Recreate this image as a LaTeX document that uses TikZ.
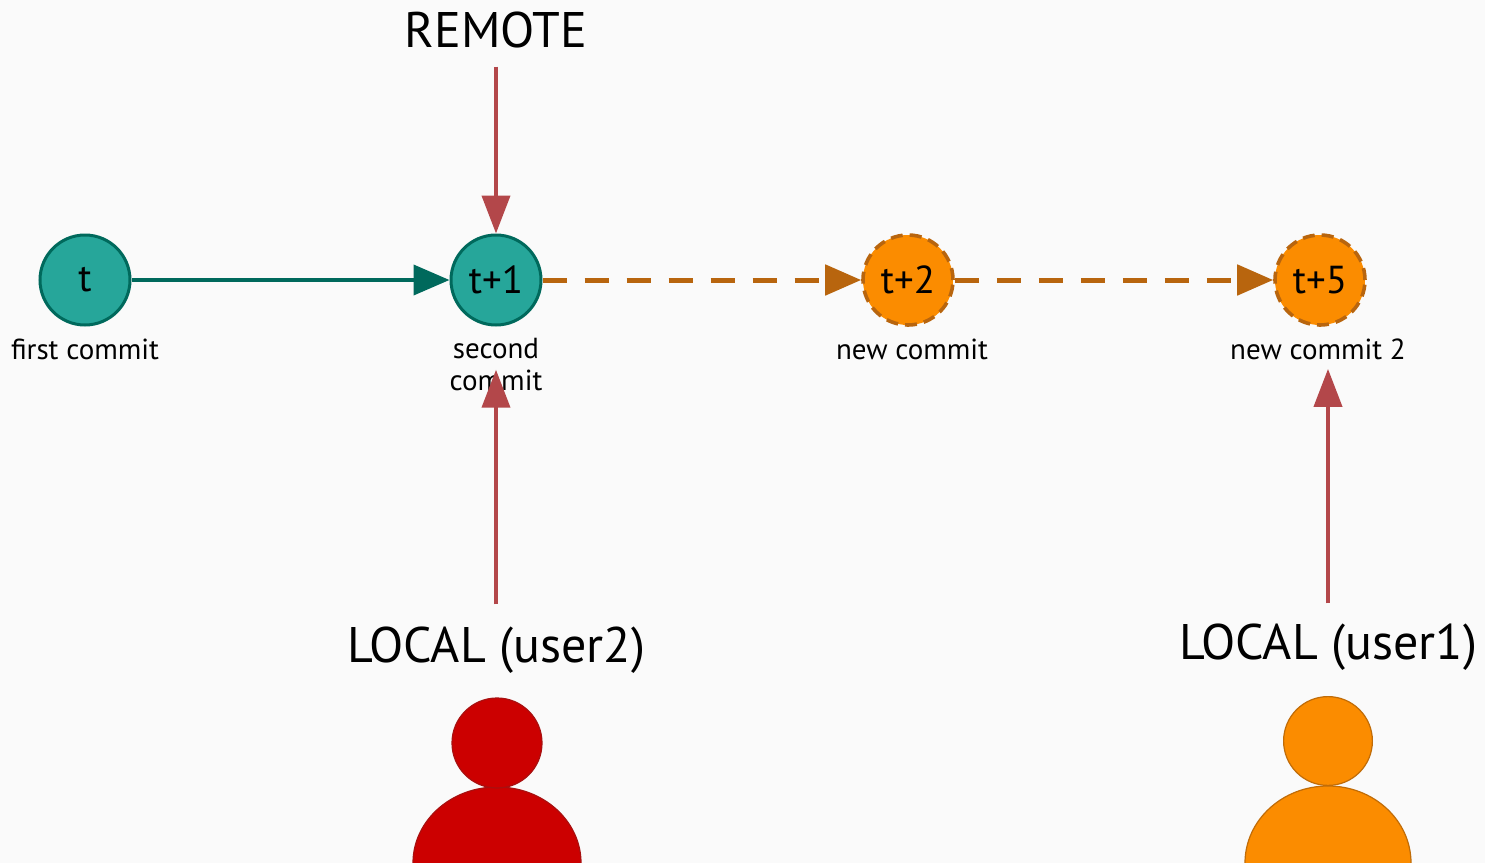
\documentclass[tikz,border=0pt]{standalone}
\usepackage{fontspec}
\setmainfont{PT Sans}
\usetikzlibrary{arrows.meta}
\usetikzlibrary{positioning}
\definecolor{tealfill}{HTML}{26A69A}
\definecolor{tealline}{HTML}{00695C}
\definecolor{orangefill}{HTML}{FB8C00}
\definecolor{orangeline}{HTML}{B8650E}
\definecolor{pointer}{HTML}{B3474A}
\definecolor{redfill}{HTML}{CC0000}
\definecolor{redline}{HTML}{A81010}
\definecolor{userline}{HTML}{C06C08}
\definecolor{paper}{HTML}{FAFAFA}

\begin{document}
\begin{tikzpicture}[x=0.5pt,y=-0.5pt,
    main node/.style={circle,draw=tealline,fill=tealfill,line width=1.5pt,minimum size=45pt,inner sep=0pt,font=\fontsize{19.5}{19.5}\selectfont},
    new node/.style={main node,draw=orangeline,fill=orangefill,line width=1.8pt,dash pattern=on 6pt off 3.5pt},
    small label/.style={inner sep=0pt,align=center,font=\fontsize{14.5}{16}\selectfont},
    big label/.style={inner sep=0pt,font=\fontsize{25}{25}\selectfont},
    commit arrow/.style={line width=2pt,-{Triangle[length=18pt,width=15pt]}},
    pointer arrow/.style={color=pointer,line width=2pt,-{Triangle[length=19pt,width=14pt]}}]

   \useasboundingbox[fill=paper] (0,0) rectangle (1485,863);

   % commits
   \node[main node] (t) at (85,280) {t};
   \node[main node] (t1) at (496,280) {t+1};
   \node[new node] (t2) at (908,280) {t+2};
   \node[new node] (t5) at (1320,280) {t+5};

   \node[small label] (l0) at (85,349) {first commit};
   \node[small label] (l1) at (496,365) {second\\commit};
   \node[small label] (l2) at (912,349) {new commit};
   \node[small label] (l5) at (1318,349) {new commit 2};

   \draw[commit arrow,color=tealline] (t) -- (t1);
   \draw[commit arrow,color=orangeline,line width=2.5pt,dash pattern=on 12pt off 9pt] (t1) -- (t2);
   \draw[commit arrow,color=orangeline,line width=2.5pt,dash pattern=on 12pt off 9pt] (t2) -- (t5);

   % pointers
   \node[big label] (remote) at (496,30) {REMOTE};
   \node[big label] (local2) at (496,650) {LOCAL (user2)};
   \node[big label] (local1) at (1328,647) {LOCAL (user1)};

   \draw[pointer arrow,shorten <=9pt] (remote) -- (t1);
   \draw[pointer arrow,shorten <=11pt,shorten >=-11pt] (local2) -- (l1);
   \draw[pointer arrow,shorten <=10pt,shorten >=4.5pt] (local1.north) -- (local1.north |- l5.south);

   % users
   \fill[redfill] (413,863) arc[start angle=180,end angle=0,x radius=42pt,y radius=38pt] -- cycle;
   \draw[redline,line width=0.6pt] (413,863) arc[start angle=180,end angle=0,x radius=42pt,y radius=38pt];
   \filldraw[fill=redfill,draw=redline,line width=0.6pt] (497,743) circle (22.5pt);

   \fill[orangefill] (1245,863) arc[start angle=180,end angle=0,x radius=41.5pt,y radius=38.5pt] -- cycle;
   \draw[userline,line width=0.6pt] (1245,863) arc[start angle=180,end angle=0,x radius=41.5pt,y radius=38.5pt];
   \filldraw[fill=orangefill,draw=userline,line width=0.6pt] (1328,741) circle (22.2pt);
  \end{tikzpicture}
\end{document}
